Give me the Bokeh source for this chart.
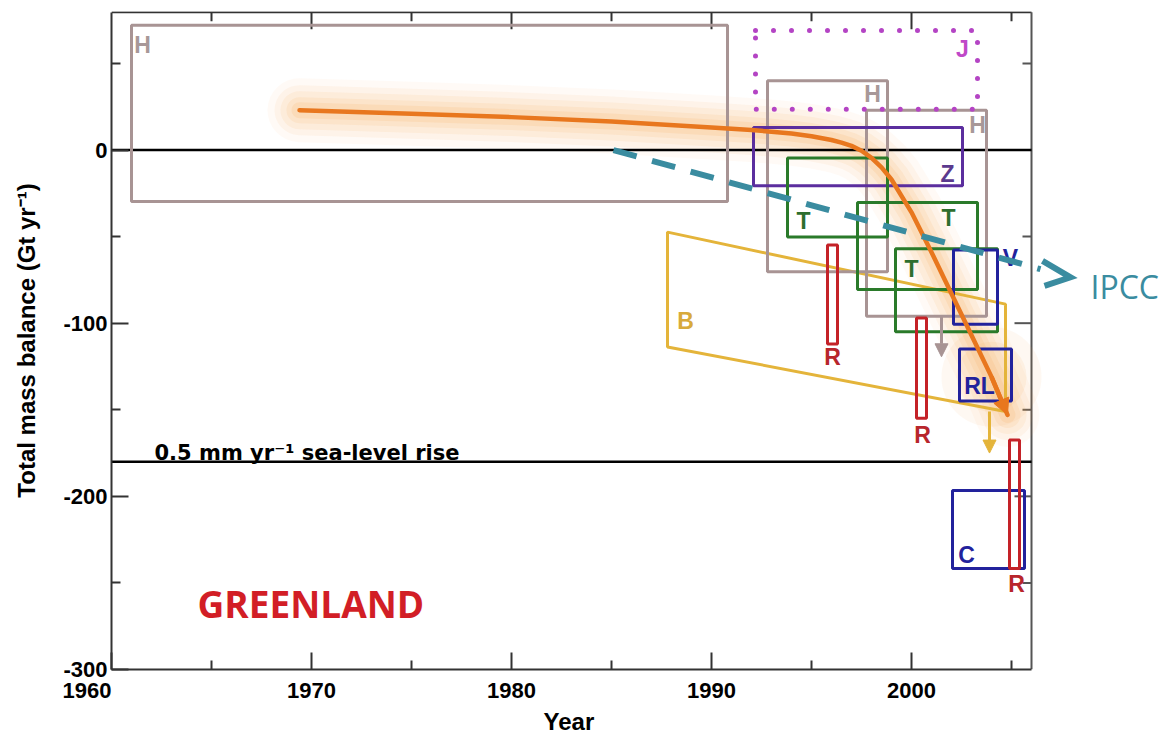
from bokeh.plotting import figure
from bokeh.models import Range1d, Arrow, NormalHead, FixedTicker, ColumnDataSource, Title
from bokeh.core.properties import value
from bokeh.embed import file_html
from bokeh.resources import INLINE

# ---------------- data ----------------
YEAR_MIN, YEAR_MAX = 1960, 2006
MB_MIN, MB_MAX = -300, 80
x_major_ticks = [1960, 1970, 1980, 1990, 2000]
x_tick_labels = ["1960", "1970", "1980", "1990", "2000"]
x_minor_ticks = [1965, 1975, 1985, 1995, 2005]
y_major_ticks = [0, -100, -200, -300]
y_tick_labels = ["0", "-100", "-200", "-300"]
y_minor_ticks = [50, -50, -150, -250]
zero_mb = 0
sea_level_mb = -180   # 0.5 mm/yr sea-level rise equivalent

# estimate boxes (study ranges)
box_label = ["H", "H", "H", "Z", "T", "T", "T", "V", "RL", "C", "R", "R", "R"]
box_group = ["H", "H", "H", "Z", "T", "T", "T", "V", "V", "V", "R", "R", "R"]
box_left = [1961.0, 1992.8, 1997.75, 1992.1, 1993.8, 1997.3, 1999.2, 2002.1, 2002.4, 2002.05, 1995.8, 2000.25, 2004.9]
box_right = [1990.8, 1998.8, 2003.75, 2002.55, 1998.8, 2003.3, 2004.3, 2004.3, 2005.0, 2005.65, 1996.3, 2000.75, 2005.4]
box_top = [72, 40, 23, 13, -4.6, -30.3, -57, -57.7, -114.9, -196.6, -54.9, -97, -167.4]
box_bottom = [-29.7, -70.3, -96, -20.6, -50.3, -80.6, -105, -100.6, -145, -241.7, -112, -154.9, -241.7]
label_x = [1961.55, 1998.05, 2003.3, 2001.8, 1994.6, 2001.85, 2000.0, 2004.95, 2003.4, 2002.75, 1996.05, 2000.55, 2005.25]
label_y = [60.5, 32.6, 14.3, -13.7, -41, -39.4, -68.6, -62.3, -136, -233.7, -119.4, -164.6, -250.9]

# J (dotted) estimate
j_left, j_right, j_top, j_bottom = 1992.2, 2003.3, 69, 23.5
j_label_x, j_label_y = 2002.55, 58.3

# B parallelogram estimate
b_year = [1987.8, 2004.7, 2004.7, 1987.8]
b_mb = [-47.4, -89.0, -151.0, -113.7]
b_label_x, b_label_y = 1988.7, -98.9

# downward arrows (year, from, to)
arrow_year = [2001.5, 2003.9]
arrow_from = [-96.5, -151.0]
arrow_to = [-119.4, -175.0]
arrow_group = ["H", "B"]

# orange synthesis curve
curve_year = [1969.4, 1975, 1980, 1985, 1990, 1992, 1993, 1994, 1995, 1996, 1996.5, 1997, 1997.5,
              1998, 1998.5, 1999, 2000, 2001, 2002, 2003, 2004, 2004.8]
curve_mb = [23, 21, 19, 16.5, 13, 11.5, 10.6, 9.5, 8, 5.8, 4.3, 2.4, -0.4,
            -4.5, -10, -17, -36, -59, -83, -107, -131, -153]

# IPCC dashed trend
ipcc_year = [1985.1, 2006.45]
ipcc_mb = [0, -68.8]
ipcc_head_year = [2006.55, 2007.95, 2006.65]
ipcc_head_mb = [-64.0, -73.5, -78.5]
ipcc_text_x, ipcc_text_y = 2008.95, -78.9

sea_text_x, sea_text_y = 1962.15, -175.0
region_text_x, region_text_y = 1964.3, -262.0

colors = {"H": "#a89494", "Z": "#5b2e9e", "T": "#2a7a2a", "V": "#22229c",
          "R": "#c42228", "B": "#e4b43a", "J": "#b444c4"}
label_colors = {"H": "#a89898", "Z": "#5b3a8e", "T": "#2e6e2e", "V": "#22229c",
                "R": "#b8262c", "B": "#d8aa3c", "J": "#c048c8"}

# ---------------- figure ----------------
W, H = 1162, 734
BORDER_L, BORDER_T, BORDER_B = 111, 11, 61
px_per_year = 20.0
x_end = YEAR_MIN + (W - BORDER_L) / px_per_year
frame_h = H - BORDER_T - BORDER_B
px_per_mb = frame_h / (MB_MAX - MB_MIN)

p = figure(width=W, height=H, output_backend="svg", toolbar_location=None,
           x_range=Range1d(YEAR_MIN, x_end), y_range=Range1d(MB_MIN, MB_MAX),
           min_border_left=BORDER_L, min_border_right=0, min_border_top=BORDER_T,
           min_border_bottom=BORDER_B)
p.outline_line_color = None
p.grid.visible = False
p.background_fill_color = "white"

# axes
xa = p.xaxis[0]
xa.ticker = FixedTicker(ticks=x_major_ticks, minor_ticks=x_minor_ticks)
xa.bounds = (YEAR_MIN, YEAR_MAX)
# first label sits left of its tick (as in the original), padded with no-break spaces
xa.major_label_overrides = {t: (lab + "\u00a0" * 8 if i == 0 else lab)
                            for i, (t, lab) in enumerate(zip(x_major_ticks, x_tick_labels))}
ya = p.yaxis[0]
ya.ticker = FixedTicker(ticks=y_major_ticks, minor_ticks=y_minor_ticks)
ya.bounds = (MB_MIN, MB_MAX - 0.5)
ya.major_label_overrides = dict(zip(y_major_ticks, y_tick_labels))
for ax in (xa, ya):
    ax.major_tick_in = 17
    ax.major_tick_out = 0
    ax.minor_tick_in = 9
    ax.minor_tick_out = 0
    ax.axis_line_width = 2
    ax.major_tick_line_width = 2
    ax.minor_tick_line_width = 2
    ax.axis_line_color = "#333333"
    ax.major_tick_line_color = "#333333"
    ax.minor_tick_line_color = "#333333"
    ax.major_label_text_color = "black"
    ax.major_label_text_font_style = "bold"
xa.major_label_text_font = "Liberation Sans"
xa.major_label_text_font_size = "22px"
xa.major_label_standoff = 8
ya.major_label_text_font = "Liberation Sans"
ya.major_label_text_font_size = "22px"
ya.major_label_standoff = 4
ya.axis_label = "Total mass balance (Gt yr\u207b\u00b9)"
ya.axis_label_text_font = "Liberation Sans"
ya.axis_label_text_font_style = "bold"
ya.axis_label_text_font_size = "24px"
ya.axis_label_standoff = 20
ya.axis_label_text_color = "black"

# x axis title, centred under the 1960-2006 span
p.add_layout(Title(text="Year", align="left", offset=432, standoff=0,
                   text_font="Liberation Sans", text_font_style="bold",
                   text_font_size="24px", text_color="black"), "below")

# frame top & right with inward ticks
frame_top = MB_MAX - 0.5
p.line([YEAR_MIN, YEAR_MAX], [frame_top, frame_top], line_color="#333333", line_width=2)
p.line([YEAR_MAX, YEAR_MAX], [MB_MIN, frame_top], line_color="#555555", line_width=2)
top_ticks = x_major_ticks[1:] + x_minor_ticks
top_len = [17 / px_per_mb if t in x_major_ticks else 9 / px_per_mb for t in top_ticks]
p.segment(x0=top_ticks, y0=[frame_top] * len(top_ticks), x1=top_ticks,
          y1=[frame_top - l for l in top_len], line_color="#333333", line_width=2)
right_ticks = y_major_ticks[:-1] + y_minor_ticks
right_len = [17 / px_per_year if t in y_major_ticks else 9 / px_per_year for t in right_ticks]
p.segment(x0=[YEAR_MAX] * len(right_ticks), y0=right_ticks,
          x1=[YEAR_MAX - l for l in right_len], y1=right_ticks,
          line_color="#555555", line_width=2)

# orange glow
for w, a in [(64, 0.05), (50, 0.07), (38, 0.09), (26, 0.11), (16, 0.13)]:
    p.line(curve_year, curve_mb, line_width=w, line_alpha=a, line_color="#f7a248",
           line_cap="round", line_join="round")
for s, a in [(100, 0.07), (70, 0.09)]:
    p.scatter([curve_year[-2]], [curve_mb[-2]], size=s, fill_color="#f7a248",
              fill_alpha=a, line_color=None)

# reference lines
p.line([YEAR_MIN, YEAR_MAX], [zero_mb, zero_mb], line_color="black", line_width=2.5)
p.line([YEAR_MIN, YEAR_MAX], [sea_level_mb, sea_level_mb], line_color="black", line_width=2.5)

# B parallelogram
p.patch(b_year, b_mb, fill_color=None, line_color=colors["B"], line_width=3)

# boxes
src = ColumnDataSource(dict(left=box_left, right=box_right, top=box_top, bottom=box_bottom,
                            color=[colors[g] for g in box_group],
                            lx=label_x, ly=label_y, text=box_label,
                            tcolor=[label_colors[g] for g in box_group]))
p.quad(left="left", right="right", top="top", bottom="bottom", source=src,
       fill_color=None, line_color="color", line_width=3)

# J dotted box
p.quad(left=[j_left], right=[j_right], top=[j_top], bottom=[j_bottom], fill_color=None,
       line_color=colors["J"], line_width=5, line_dash="0 18", line_cap="round")

# arrows
for xv, y0, y1, g in zip(arrow_year, arrow_from, arrow_to, arrow_group):
    c = colors[g]
    p.add_layout(Arrow(end=NormalHead(size=13, fill_color=c, line_color=c),
                       x_start=xv, y_start=y0, x_end=xv, y_end=y1,
                       line_color=c, line_width=3))

# box labels
p.text(x="lx", y="ly", text="text", source=src, text_color="tcolor",
       text_font=value("Liberation Sans"), text_font_style="bold",
       text_font_size="23px", text_align="center", text_baseline="middle")
p.text(x=[j_label_x], y=[j_label_y], text=["J"], text_color=label_colors["J"],
       text_font=value("Liberation Sans"), text_font_style="bold",
       text_font_size="23px", text_align="center", text_baseline="middle")
p.text(x=[b_label_x], y=[b_label_y], text=["B"], text_color=label_colors["B"],
       text_font=value("Liberation Sans"), text_font_style="bold",
       text_font_size="23px", text_align="center", text_baseline="middle")

# orange curve + arrow head
p.line(curve_year, curve_mb, line_width=4.5, line_color="#e8771e", line_cap="round",
       line_join="round")
p.add_layout(Arrow(end=NormalHead(size=16, fill_color="#e8771e", line_color="#e8771e"),
                   x_start=curve_year[-2], y_start=curve_mb[-2],
                   x_end=curve_year[-1], y_end=curve_mb[-1],
                   line_color="#e8771e", line_width=4.5))

# IPCC dashed
teal = "#3a8ca0"
p.line(ipcc_year, ipcc_mb, line_color=teal, line_width=6, line_dash="24 16")
p.line(ipcc_head_year, ipcc_head_mb, line_color=teal, line_width=6, line_join="miter")
p.text(x=[ipcc_text_x], y=[ipcc_text_y], text=["IPCC"], text_color=teal,
       text_font=value("Open Sans"), text_font_size="32px", text_align="left",
       text_baseline="middle")

# texts
p.text(x=[sea_text_x], y=[sea_text_y], text=["0.5 mm yr\u207b\u00b9 sea-level rise"],
       text_color="black", text_font=value("DejaVu Sans"), text_font_style="bold",
       text_font_size="21px", text_align="left", text_baseline="alphabetic")
p.text(x=[region_text_x], y=[region_text_y], text=["GREENLAND"], text_color="#d21e26",
       text_font=value("Open Sans"), text_font_style="bold", text_font_size="37px",
       text_align="left", text_baseline="middle")

open("out.html", "w").write(file_html(p, INLINE))
